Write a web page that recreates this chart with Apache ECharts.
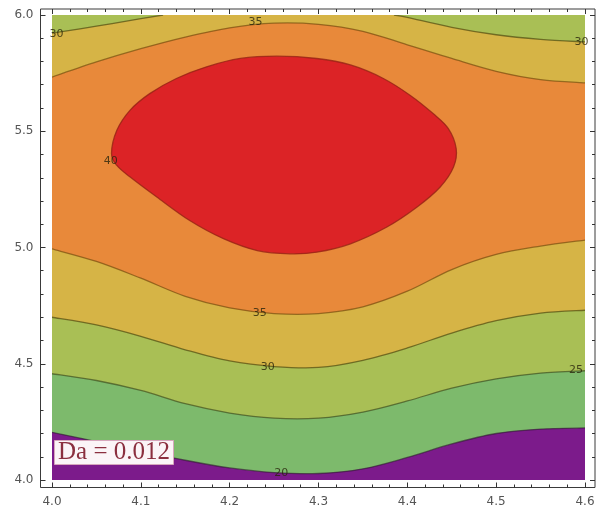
<!DOCTYPE html>
<html>
<head>
<meta charset="utf-8">
<title>Contour plot, Da = 0.012</title>
<script src="https://cdn.jsdelivr.net/npm/echarts@6/dist/echarts.min.js"></script>
<style>
  html, body { margin: 0; padding: 0; background: #ffffff; }
  #chart { width: 602px; height: 510px; }
</style>
</head>
<body>
<div id="chart"></div>
<script>
// Plot range and tick marks
const X_TICKS = [4.0, 4.1, 4.2, 4.3, 4.4, 4.5, 4.6];
const Y_TICKS = [4.0, 4.5, 5.0, 5.5, 6.0];
const X_MIN = 4.0, X_MAX = 4.6, Y_MIN = 4.0, Y_MAX = 6.0;

// Contour levels and their band colours (lowest to highest)
const LEVELS = [20, 25, 30, 35, 40];
const BAND_COLORS = ['#7c1b8b', '#7dba6c', '#a9bf55', '#d6b446', '#e8893a', '#dc2326'];

// Contour lines, as [x, y] points
const contour20 = [[4.00, 4.205], [4.05, 4.165], [4.10, 4.125], [4.15, 4.085], [4.20, 4.052], [4.25, 4.032], [4.30, 4.028], [4.35, 4.048], [4.40, 4.097], [4.45, 4.155], [4.50, 4.200], [4.55, 4.219], [4.60, 4.224]];
const contour25 = [[4.00, 4.457], [4.05, 4.428], [4.10, 4.385], [4.15, 4.328], [4.20, 4.288], [4.25, 4.266], [4.30, 4.266], [4.35, 4.292], [4.40, 4.340], [4.45, 4.395], [4.50, 4.435], [4.55, 4.460], [4.60, 4.470]];
const contour30 = [[4.00, 4.700], [4.05, 4.667], [4.10, 4.618], [4.15, 4.560], [4.20, 4.512], [4.25, 4.488], [4.30, 4.484], [4.35, 4.515], [4.40, 4.568], [4.45, 4.632], [4.50, 4.685], [4.55, 4.718], [4.60, 4.730]];
const contour35 = [[4.00, 4.994], [4.05, 4.940], [4.10, 4.868], [4.15, 4.790], [4.20, 4.740], [4.25, 4.716], [4.30, 4.716], [4.35, 4.745], [4.40, 4.812], [4.45, 4.905], [4.50, 4.970], [4.55, 5.006], [4.60, 5.032]];
const contour35Top = [[4.00, 5.733], [4.05, 5.798], [4.10, 5.855], [4.15, 5.905], [4.20, 5.945], [4.25, 5.965], [4.30, 5.960], [4.35, 5.930], [4.40, 5.872], [4.45, 5.813], [4.50, 5.758], [4.55, 5.722], [4.60, 5.708]];
const contour30TopLeft = [[4.00, 5.922], [4.05, 5.952], [4.10, 5.984], [4.125, 6.000]];
const contour30TopRight = [[4.385, 6.000], [4.40, 5.990], [4.45, 5.947], [4.50, 5.915], [4.55, 5.895], [4.60, 5.884]];
const contour40 = [
  [4.067, 5.404], [4.073, 5.504], [4.088, 5.591], [4.110, 5.662], [4.140, 5.727], [4.174, 5.777],
  [4.212, 5.813], [4.253, 5.823], [4.298, 5.813], [4.336, 5.785], [4.373, 5.727], [4.403, 5.655],
  [4.429, 5.576], [4.446, 5.512], [4.455, 5.425], [4.452, 5.346], [4.437, 5.260], [4.411, 5.174],
  [4.377, 5.088], [4.336, 5.016], [4.298, 4.980], [4.268, 4.973], [4.231, 4.987], [4.193, 5.038],
  [4.155, 5.116], [4.118, 5.217], [4.088, 5.303], [4.073, 5.353]
];

// Contour labels: [x, y, level]
const contourLabels = [
  [4.258, 4.030, 20],
  [4.590, 4.474, 25],
  [4.243, 4.484, 30],
  [4.234, 4.718, 35],
  [4.066, 5.370, 40],
  [4.005, 5.918, 30],
  [4.229, 5.968, 35],
  [4.596, 5.885, 30]
];

const annotation = 'Da = 0.012';

// ---- path helpers (Catmull-Rom through the projected points) ----
function fmt(p) { return p[0].toFixed(2) + ' ' + p[1].toFixed(2); }

function openCurve(px, lead) {
  let d = lead + fmt(px[0]);
  const n = px.length;
  for (let i = 0; i < n - 1; i++) {
    const p0 = px[Math.max(i - 1, 0)], p1 = px[i], p2 = px[i + 1], p3 = px[Math.min(i + 2, n - 1)];
    const c1 = [p1[0] + (p2[0] - p0[0]) / 6, p1[1] + (p2[1] - p0[1]) / 6];
    const c2 = [p2[0] - (p3[0] - p1[0]) / 6, p2[1] - (p3[1] - p1[1]) / 6];
    d += ' C' + fmt(c1) + ' ' + fmt(c2) + ' ' + fmt(p2);
  }
  return d;
}

function closedCurve(px) {
  const n = px.length;
  let d = 'M' + fmt(px[0]);
  for (let i = 0; i < n; i++) {
    const p0 = px[(i - 1 + n) % n], p1 = px[i], p2 = px[(i + 1) % n], p3 = px[(i + 2) % n];
    const c1 = [p1[0] + (p2[0] - p0[0]) / 6, p1[1] + (p2[1] - p0[1]) / 6];
    const c2 = [p2[0] - (p3[0] - p1[0]) / 6, p2[1] - (p3[1] - p1[1]) / 6];
    d += ' C' + fmt(c1) + ' ' + fmt(c2) + ' ' + fmt(p2);
  }
  return d + ' Z';
}

function project(api, pts) { return pts.map(p => api.coord(p)); }
function reversed(pts) { return pts.slice().reverse(); }

// Filled regions, painted from the lowest level upwards
const BANDS = [
  api => 'M' + fmt(api.coord([X_MIN, Y_MIN])) + ' L' + fmt(api.coord([X_MAX, Y_MIN])) +
         ' L' + fmt(api.coord([X_MAX, Y_MAX])) + ' L' + fmt(api.coord([X_MIN, Y_MAX])) + ' Z',
  api => openCurve(project(api, contour20), 'M') + ' L' + fmt(api.coord([X_MAX, Y_MAX])) +
         ' L' + fmt(api.coord([X_MIN, Y_MAX])) + ' Z',
  api => openCurve(project(api, contour25), 'M') + ' L' + fmt(api.coord([X_MAX, Y_MAX])) +
         ' L' + fmt(api.coord([X_MIN, Y_MAX])) + ' Z',
  api => openCurve(project(api, contour30), 'M') +
         ' ' + openCurve(project(api, reversed(contour30TopRight)), 'L') +
         ' ' + openCurve(project(api, reversed(contour30TopLeft)), 'L') + ' Z',
  api => openCurve(project(api, contour35), 'M') +
         ' ' + openCurve(project(api, reversed(contour35Top)), 'L') + ' Z',
  api => closedCurve(project(api, contour40))
];

// Contour lines to stroke
const LINES = [
  { pts: contour20, closed: false, color: 'rgba(45,25,45,0.6)' },
  { pts: contour25, closed: false, color: 'rgba(50,60,20,0.6)' },
  { pts: contour30, closed: false, color: 'rgba(70,65,10,0.65)' },
  { pts: contour35, closed: false, color: 'rgba(110,70,10,0.65)' },
  { pts: contour35Top, closed: false, color: 'rgba(110,70,10,0.65)' },
  { pts: contour30TopLeft, closed: false, color: 'rgba(70,65,10,0.65)' },
  { pts: contour30TopRight, closed: false, color: 'rgba(70,65,10,0.65)' },
  { pts: contour40, closed: true, color: 'rgba(150,35,20,0.8)' }
];

const chart = echarts.init(document.getElementById('chart'), null, { renderer: 'canvas' });

const tickLabelStyle = {
  color: '#555',
  fontSize: 12,
  fontFamily: 'DejaVu Sans'
};

function valueAxis(extra) {
  return Object.assign({
    type: 'value',
    gridIndex: 0,
    axisLine: { show: false },
    axisTick: { show: true, inside: true, length: 5, lineStyle: { color: '#333', width: 1 } },
    minorTick: { show: true, splitNumber: 5, length: 3, lineStyle: { color: '#333', width: 1 } },
    splitLine: { show: false },
    minorSplitLine: { show: false }
  }, extra);
}

const option = {
  animation: false,
  backgroundColor: '#ffffff',
  title: {
    text: annotation,
    left: 54,
    top: 440,
    padding: [0, 4, 0, 4],
    backgroundColor: '#fbf4f7',
    borderColor: '#d6a6bc',
    borderWidth: 1,
    textStyle: {
      fontFamily: 'Liberation Serif',
      fontSize: 25,
      lineHeight: 25,
      fontWeight: 'normal',
      color: '#8b2f3f'
    }
  },
  grid: [
    { left: 52, right: 17, top: 15, bottom: 30, show: false },
    { left: 40.5, right: 7, top: 9, bottom: 22.5, show: true, borderColor: '#3a3a3a', borderWidth: 1, backgroundColor: 'transparent' }
  ],
  xAxis: [
    valueAxis({
      position: 'bottom', offset: 7.5,
      min: X_TICKS[0], max: X_TICKS[X_TICKS.length - 1], interval: 0.1,
      axisLabel: Object.assign({ margin: 8, formatter: v => v.toFixed(1) }, tickLabelStyle)
    }),
    valueAxis({
      position: 'top', offset: 6,
      min: X_TICKS[0], max: X_TICKS[X_TICKS.length - 1], interval: 0.1,
      axisLabel: { show: false }
    }),
    { type: 'value', gridIndex: 1, show: false, min: 0, max: 1 }
  ],
  yAxis: [
    valueAxis({
      position: 'left', offset: 11.5,
      min: Y_TICKS[0], max: Y_TICKS[Y_TICKS.length - 1], interval: 0.5,
      axisLabel: Object.assign({ margin: 7, formatter: v => v.toFixed(1) }, tickLabelStyle)
    }),
    valueAxis({
      position: 'right', offset: 10,
      min: Y_TICKS[0], max: Y_TICKS[Y_TICKS.length - 1], interval: 0.5,
      axisLabel: { show: false }
    }),
    { type: 'value', gridIndex: 1, show: false, min: 0, max: 1 }
  ],
  series: [
    {
      name: 'bands',
      type: 'custom',
      coordinateSystem: 'cartesian2d',
      xAxisIndex: 0,
      yAxisIndex: 0,
      clip: true,
      silent: true,
      z: 1,
      data: BANDS.map((b, i) => [i]),
      renderItem: (params, api) => ({
        type: 'path',
        shape: { pathData: BANDS[params.dataIndex](api) },
        style: { fill: BAND_COLORS[params.dataIndex], stroke: null }
      })
    },
    {
      name: 'contours',
      type: 'custom',
      coordinateSystem: 'cartesian2d',
      xAxisIndex: 0,
      yAxisIndex: 0,
      clip: true,
      silent: true,
      z: 2,
      data: LINES.map((l, i) => [i]),
      renderItem: (params, api) => {
        const line = LINES[params.dataIndex];
        const px = project(api, line.pts);
        return {
          type: 'path',
          shape: { pathData: line.closed ? closedCurve(px) : openCurve(px, 'M') },
          style: { fill: null, stroke: line.color, lineWidth: 1.3 }
        };
      }
    },
    {
      name: 'labels',
      type: 'scatter',
      xAxisIndex: 0,
      yAxisIndex: 0,
      silent: true,
      z: 3,
      symbolSize: 0,
      data: contourLabels,
      label: {
        show: true,
        position: 'inside',
        formatter: p => String(p.value[2]),
        color: '#29250c',
        fontSize: 11,
        fontFamily: 'DejaVu Sans'
      }
    }
  ]
};

chart.setOption(option);
</script>
</body>
</html>
